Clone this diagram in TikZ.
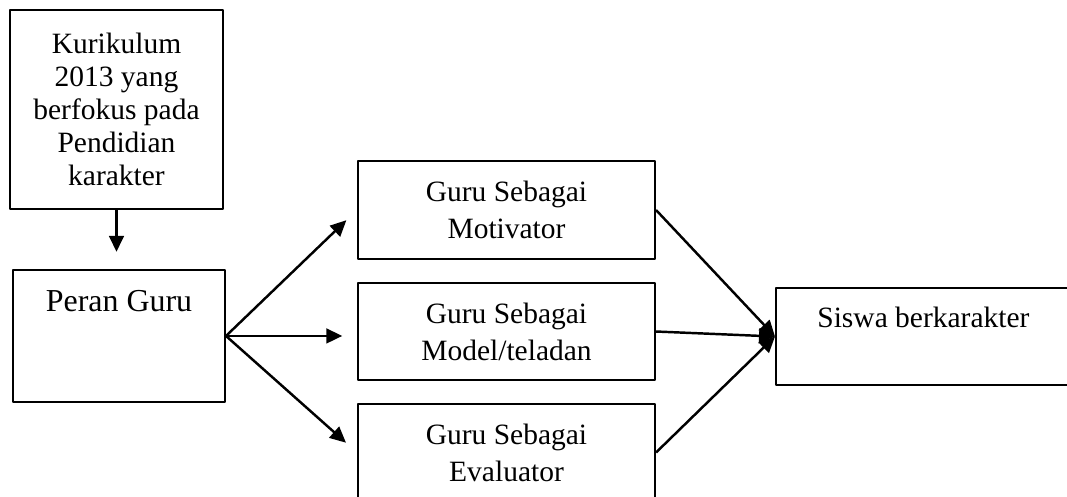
\documentclass[tikz,border=0pt]{standalone}
\usepackage{fontspec}
\setmainfont{Liberation Serif}
\usetikzlibrary{arrows.meta}

\begin{document}
\begin{tikzpicture}[x=0.407pt,y=-0.407pt,line join=round,
		box/.style={draw,line width=0.8pt,anchor=north west,align=center,inner sep=0pt},
		arr/.style={-{Triangle[length=6.5pt,width=6pt]},line width=1pt}]
		\useasboundingbox (0,0) rectangle (1067,497);
		\node[box,minimum width=86.7pt,minimum height=81pt,font=\fontsize{12}{13.4}\selectfont] (kur) at (9,9) {Kurikulum\\2013 yang\\berfokus pada\\Pendidian\\karakter};
		\node[box,minimum width=86.3pt,minimum height=53.7pt,label={[anchor=center,yshift=-13pt,font=\fontsize{13}{15}\selectfont]north:Peran Guru}] (peran) at (12,269) {};
		\node[box,minimum width=120.9pt,minimum height=39.9pt,font=\fontsize{12}{15}\selectfont] (mot) at (357,160) {Guru Sebagai\\Motivator};
		\node[box,minimum width=120.9pt,minimum height=39.5pt,font=\fontsize{12}{15}\selectfont] (mod) at (357,282) {Guru Sebagai\\Model/teladan};
		\node[box,minimum width=120.9pt,minimum height=39.5pt,font=\fontsize{12}{15}\selectfont] (eva) at (357,403) {Guru Sebagai\\Evaluator};
		\node[box,minimum width=120pt,minimum height=39.5pt,label={[anchor=center,yshift=-12.2pt,font=\fontsize{12}{14}\selectfont]north:Siswa berkarakter}] (sis) at (775,287) {};
		\draw[arr,shorten >=7pt] (kur.south) -- (kur.south |- peran.north);
		\draw[arr,shorten >=6pt] (peran.east) -- (mot.west);
		\draw[arr,shorten >=6pt] (peran.east) -- (peran.east -| mod.west);
		\draw[arr,shorten >=6pt] (peran.east) -- (eva.west);
		\draw[arr] (mot.east) -- (sis.west);
		\draw[arr] (mod.east) -- (sis.west);
		\draw[arr] (eva.east) -- (sis.west);
	\end{tikzpicture}
\end{document}
